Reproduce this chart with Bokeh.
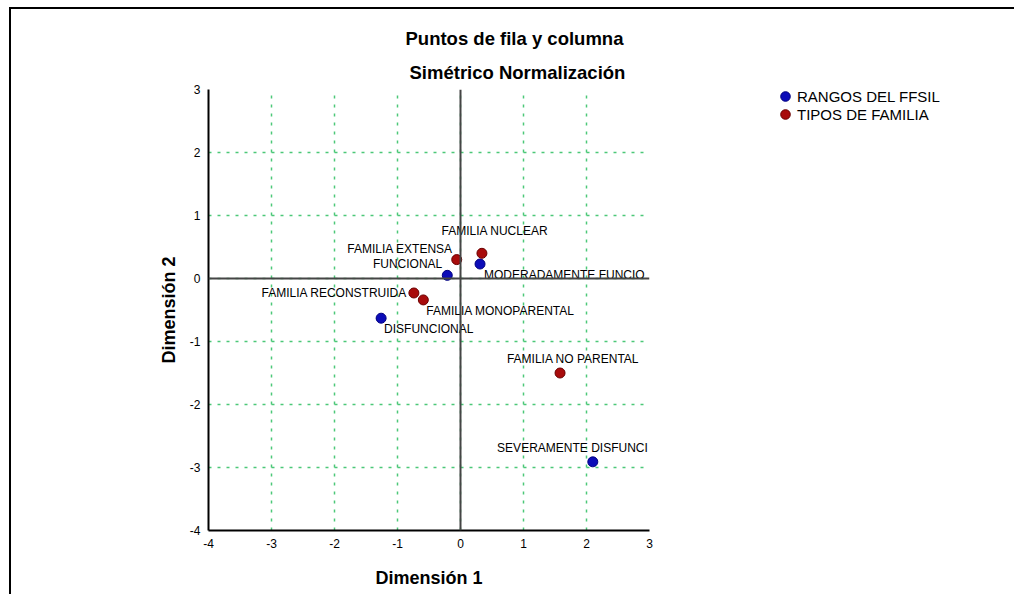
from bokeh.plotting import figure
from bokeh.layouts import row
from bokeh.models import (Span, Legend, LegendItem, Title, ColumnDataSource,
                          Range1d, FixedTicker)
from bokeh.core.properties import value
from bokeh.embed import file_html
from bokeh.resources import INLINE

# ---------------- data ----------------
rangos_labels = ["FUNCIONAL", "MODERADAMENTE FUNCIO", "DISFUNCIONAL", "SEVERAMENTE DISFUNCI"]
rangos_dim1 = [-0.21, 0.31, -1.26, 2.10]
rangos_dim2 = [0.05, 0.23, -0.63, -2.91]

tipos_labels = ["FAMILIA NUCLEAR", "FAMILIA EXTENSA", "FAMILIA RECONSTRUIDA",
                "FAMILIA MONOPARENTAL", "FAMILIA NO PARENTAL"]
tipos_dim1 = [0.34, -0.06, -0.74, -0.59, 1.58]
tipos_dim2 = [0.40, 0.30, -0.23, -0.34, -1.50]

series_names = ["RANGOS DEL FFSIL", "TIPOS DE FAMILIA"]
axis_ticks = [-4, -3, -2, -1, 0, 1, 2, 3]
tick_labels = {t: str(t) for t in axis_ticks}

title_text = "Puntos de fila y columna"
subtitle_text = "Simétrico Normalización"
xlabel_text = "Dimensión 1"
ylabel_text = "Dimensión 2"

# ---------------- styles ----------------
FONT = "Liberation Sans"
BLUE, BLUE_EDGE = "#0c0cb8", "#000080"
RED, RED_EDGE = "#a80c0c", "#6a0000"
GRID = "#4cc878"

# label placement: (align, x offset px, y offset px)
label_place = {
    "FUNCIONAL": ("right", -5, -11),
    "MODERADAMENTE FUNCIO": ("left", 4, 11),
    "DISFUNCIONAL": ("left", 3, 11),
    "SEVERAMENTE DISFUNCI": ("right", 55, -14),
    "FAMILIA NUCLEAR": ("center", 13, -22),
    "FAMILIA EXTENSA": ("right", -4, -11),
    "FAMILIA RECONSTRUIDA": ("right", -7, 0),
    "FAMILIA MONOPARENTAL": ("left", 3, 11),
    "FAMILIA NO PARENTAL": ("center", 13, -14),
}

p = figure(width=762, height=585,
           x_range=Range1d(-4, 3), y_range=Range1d(-4, 3),
           output_backend="svg", toolbar_location=None, title=None,
           min_border_left=197, min_border_right=124,
           min_border_top=80, min_border_bottom=64)
p.outline_line_color = None
p.background_fill_color = "white"
p.border_fill_color = "white"

# axes
for ax in (p.xaxis[0], p.yaxis[0]):
    ax.ticker = FixedTicker(ticks=axis_ticks)
    ax.major_label_overrides = tick_labels
    ax.axis_line_color = "black"
    ax.axis_line_width = 2
    ax.major_tick_in = 0
    ax.major_tick_out = 0
    ax.minor_tick_in = 0
    ax.minor_tick_out = 0
    ax.major_label_text_font = FONT
    ax.major_label_text_font_size = "12px"
    ax.major_label_text_color = "black"
    ax.major_label_standoff = 8
    ax.axis_label_text_font = FONT
    ax.axis_label_text_font_size = "18px"
    ax.axis_label_text_font_style = "bold"
    ax.axis_label_text_color = "black"
p.xaxis.axis_label = xlabel_text
p.yaxis.axis_label = ylabel_text
p.xaxis.axis_label_standoff = 17
p.yaxis.axis_label_standoff = 8

# grid
for g in (p.xgrid[0], p.ygrid[0]):
    g.ticker = FixedTicker(ticks=axis_ticks)
    g.grid_line_color = GRID
    g.grid_line_dash = "3 6"
    g.grid_line_width = 1.5

# zero lines
p.add_layout(Span(location=0, dimension="width", line_color="#454545", line_width=2))
p.add_layout(Span(location=0, dimension="height", line_color="#454545", line_width=2))

# points
r1 = p.scatter(rangos_dim1, rangos_dim2, size=10, fill_color=BLUE, line_color=BLUE_EDGE, line_width=1)
r2 = p.scatter(tipos_dim1, tipos_dim2, size=10, fill_color=RED, line_color=RED_EDGE, line_width=1)

# labels
all_x = rangos_dim1 + tipos_dim1
all_y = rangos_dim2 + tipos_dim2
all_t = rangos_labels + tipos_labels
for align in ("left", "center", "right"):
    xs, ys, ts, dxs, dys = [], [], [], [], []
    for x, y, t in zip(all_x, all_y, all_t):
        a, dx, dy = label_place[t]
        if a == align:
            xs.append(x); ys.append(y); ts.append(t); dxs.append(dx); dys.append(dy)
    src = ColumnDataSource(dict(x=xs, y=ys, text=ts, dx=dxs, dy=dys))
    p.text(x="x", y="y", text="text", x_offset="dx", y_offset="dy", source=src,
           text_align=align, text_baseline="middle", text_font=value(FONT),
           text_font_size="12px", text_color="black")

# titles
p.add_layout(Title(text=subtitle_text, align="left", offset=201, text_font=FONT,
                   text_font_size="18.5px", text_font_style="bold", text_color="black",
                   standoff=14), "above")
p.add_layout(Title(text=title_text, align="left", offset=197, text_font=FONT,
                   text_font_size="18.5px", text_font_style="bold", text_color="black",
                   standoff=8), "above")

# ---------------- legend panel (second figure, frames aligned with p) ----------------
q = figure(width=241, height=585, x_range=Range1d(0, 1), y_range=Range1d(0, 1),
           output_backend="svg", toolbar_location=None, title=None,
           x_axis_type=None, y_axis_type=None,
           min_border_left=0, min_border_right=0, min_border_top=80, min_border_bottom=64)
q.outline_line_color = None
q.xgrid.visible = False
q.ygrid.visible = False
q.border_fill_color = "white"
q.background_fill_color = "white"

# hidden copies of the two series, used only for the legend swatches
k1 = q.scatter(rangos_dim1, rangos_dim2, size=10, fill_color=BLUE, line_color=BLUE_EDGE,
               line_width=1, visible=False)
k2 = q.scatter(tipos_dim1, tipos_dim2, size=10, fill_color=RED, line_color=RED_EDGE,
               line_width=1, visible=False)

frame_bottom = 585 - 64
for name, rend, top in ((series_names[0], k1, 75), (series_names[1], k2, 93)):
    lg = Legend(items=[LegendItem(label=name, renderers=[rend])],
                location=(0, frame_bottom - top - 24), padding=0, margin=0, spacing=0,
                glyph_width=24, glyph_height=24, label_height=24, label_standoff=0,
                label_text_font=FONT, label_text_font_size="15px",
                label_text_color="black", inactive_fill_alpha=0,
                border_line_color=None, background_fill_alpha=0)
    q.add_layout(lg)

layout = row(p, q, spacing=0,
             styles={"border-left": "2px solid black", "border-top": "2px solid black",
                     "margin-left": "9px", "margin-top": "7px"})

open("out.html", "w").write(file_html(layout, INLINE))
